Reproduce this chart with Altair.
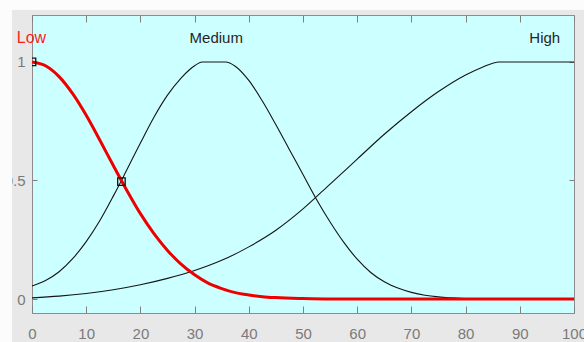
import altair as alt
import pandas as pd

# ---- data ----
low_x = [0, 2.5, 5, 7.5, 10, 12.5, 15, 17.5, 20, 22.5, 25, 27.5, 30, 32.5, 35, 37.5, 40, 42.5, 45, 50, 55, 100]
low_y = [1.0, 0.984, 0.938, 0.866, 0.775, 0.671, 0.563, 0.458, 0.36, 0.276, 0.205, 0.147, 0.102, 0.067, 0.044,
         0.027, 0.017, 0.01, 0.006, 0.002, 0.0, 0.0]

med_x = [0, 2.5, 5, 7.5, 10, 12.5, 15, 17.5, 20, 22.5, 25, 27.5, 29, 30, 31.4, 35.7, 37.5, 40, 42.5, 45, 47.5,
         50, 52.5, 55, 57.5, 60, 62.5, 65, 67.5, 70, 72.5, 75, 77.5, 80, 85, 100]
med_y = [0.055, 0.078, 0.115, 0.17, 0.242, 0.33, 0.434, 0.545, 0.658, 0.767, 0.86, 0.932, 0.966, 0.984, 1.0, 1.0,
         0.982, 0.922, 0.835, 0.735, 0.63, 0.525, 0.42, 0.325, 0.24, 0.168, 0.112, 0.073, 0.046, 0.028, 0.016,
         0.009, 0.005, 0.002, 0.0, 0.0]

high_x = [0, 5, 10, 15, 20, 25, 30, 35, 40, 45, 50, 55, 60, 65, 70, 75, 80, 83, 86.2, 100]
high_y = [0.005, 0.012, 0.023, 0.039, 0.06, 0.087, 0.12, 0.163, 0.22, 0.29, 0.38, 0.485, 0.59, 0.695, 0.79,
          0.875, 0.945, 0.977, 1.0, 1.0]

marker_x = [0, 16.5]
marker_y = [1.0, 0.495]

label_text = ["Low", "Medium", "High"]
label_x = [-0.1, 34, 94.6]
label_y = [1.1, 1.1, 1.1]

x_ticks = [0, 10, 20, 30, 40, 50, 60, 70, 80, 90, 100]
y_ticks = [0, 0.5, 1]

# ---- tables ----
black_df = pd.concat([
    pd.DataFrame({"x": med_x, "y": med_y, "mf": "Medium"}),
    pd.DataFrame({"x": high_x, "y": high_y, "mf": "High"}),
])
low_df = pd.DataFrame({"x": low_x, "y": low_y, "mf": "Low"})
mk_df = pd.DataFrame({"x": marker_x, "y": marker_y})
lab_df = pd.DataFrame({"x": label_x, "y": label_y, "t": label_text,
                       "c": ["Low", "Other", "Other"]})
one = pd.DataFrame({"a": [0]})

xs = alt.Scale(domain=[0, 100], nice=False, zero=False)
ys = alt.Scale(domain=[-0.059, 1.198], nice=False, zero=False)

FONT = "Liberation Sans"
GRAY = "#808080"

bottom_axis = alt.Axis(orient="bottom", values=x_ticks, offset=-7, tickSize=7, domain=False, grid=False,
                       labelPadding=13, labelFont=FONT, labelFontSize=15, labelColor="#7a7a7a",
                       tickColor=GRAY, title=None, labelFlush=False, labelOverlap=False)
left_axis = alt.Axis(orient="left", values=y_ticks, offset=-5, tickSize=5, domain=False, grid=False,
                     labelPadding=7, labelFont=FONT, labelFontSize=15, labelColor="#7a7a7a",
                     tickColor=GRAY, title=None, labelFlush=False, labelOverlap=False, format="g")
top_axis = alt.Axis(orient="top", values=x_ticks, offset=-7, tickSize=7, domain=False, grid=False,
                    labels=False, tickColor=GRAY, title=None)
right_axis = alt.Axis(orient="right", values=y_ticks, offset=-5, tickSize=5, domain=False, grid=False,
                      labels=False, tickColor=GRAY, title=None)

black = alt.Chart(black_df).mark_line(color="#151515", strokeWidth=1.1, interpolate="monotone").encode(
    x=alt.X("x:Q", scale=xs, axis=bottom_axis),
    y=alt.Y("y:Q", scale=ys, axis=left_axis),
    detail="mf:N",
)

red = alt.Chart(low_df).mark_line(color="#ee0000", strokeWidth=3, interpolate="monotone").encode(
    x=alt.X("x:Q", scale=xs, axis=None),
    y=alt.Y("y:Q", scale=ys, axis=None),
)

markers = alt.Chart(mk_df).mark_point(shape="square", filled=False, size=56, color="#111111",
                                      strokeWidth=1.3, clip=True, opacity=1).encode(
    x=alt.X("x:Q", scale=xs, axis=top_axis),
    y=alt.Y("y:Q", scale=ys, axis=right_axis),
)

labels = alt.Chart(lab_df).mark_text(font=FONT, fontSize=15, baseline="middle", align="center").encode(
    x=alt.X("x:Q", scale=xs, axis=None),
    y=alt.Y("y:Q", scale=ys, axis=None),
    text="t:N",
    color=alt.Color("c:N", scale=alt.Scale(domain=["Low", "Other"], range=["#ff1a1a", "#262626"]),
                    legend=None),
    size=alt.Size("c:N", scale=alt.Scale(domain=["Low", "Other"], range=[16, 15]), legend=None),
)

# white margins of the original screenshot
band_top = alt.Chart(one).mark_rect(color="#fcfcfc").encode(
    x=alt.value(-32), x2=alt.value(552), y=alt.value(-15), y2=alt.value(-5))
band_left = alt.Chart(one).mark_rect(color="#fcfcfc").encode(
    x=alt.value(-32), x2=alt.value(-20), y=alt.value(-15), y2=alt.value(327))

chart = alt.layer(black, red, markers, labels, band_top, band_left).resolve_axis(
    x="independent", y="independent"
).properties(
    width=542, height=298,
    autosize=alt.AutoSizeParams(type="none"),
    padding={"left": 32, "top": 15, "right": 10, "bottom": 29},
    background="#e8e8e8",
).configure_view(
    fill="#ccffff", stroke="#8c8c8c", strokeWidth=1
)

chart.save("out.html", embed_options={"renderer": "svg", "actions": False})
